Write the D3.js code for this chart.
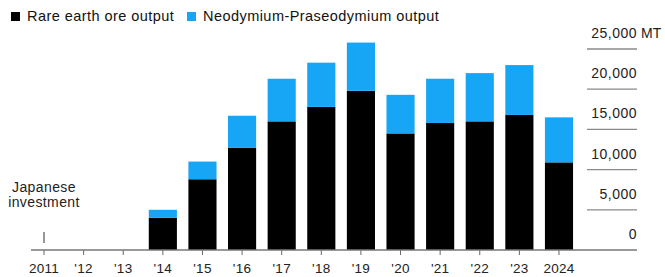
<!DOCTYPE html>
<html>
<head>
<meta charset="utf-8">
<script src="https://cdn.jsdelivr.net/npm/d3@7"></script>
<style>
  body { margin: 0; background: #fff; }
  text { font-family: "Liberation Sans", Arial, sans-serif; }
</style>
</head>
<body>
<svg id="chart" width="665" height="277"></svg>
<script>
// data
var years = ["2011", "'12", "'13", "'14", "'15", "'16", "'17", "'18", "'19", "'20", "'21", "'22", "'23", "2024"];
var oreOutput = [0, 0, 0, 4000, 8800, 12700, 16000, 17800, 19800, 14500, 15800, 16000, 16800, 10900];
var ndprOutput = [0, 0, 0, 1000, 2200, 4000, 5300, 5500, 6000, 4800, 5500, 6000, 6200, 5600];
var yTicks = [0, 5000, 10000, 15000, 20000, 25000];
var seriesNames = ["Rare earth ore output", "Neodymium-Praseodymium output"];
var seriesColours = ["#000000", "#17a6f5"];

var svg = d3.select("#chart");
var baseY = 250, topY = 49;

var x = d3.scaleBand()
    .domain(years)
    .range([24.2, 578.8])
    .paddingInner(0.29)
    .paddingOuter(0.145);

var y = d3.scaleLinear()
    .domain([0, 25000])
    .range([baseY, topY]);

// gridlines + labels on the right
var grid = svg.append("g");
grid.selectAll("line")
    .data(yTicks.filter(function (d) { return d > 0; }))
    .enter().append("line")
    .attr("x1", 587).attr("x2", 637)
    .attr("y1", function (d) { return y(d); })
    .attr("y2", function (d) { return y(d); })
    .attr("stroke", "#8a8a8a")
    .attr("stroke-width", 1.3);

grid.selectAll("text")
    .data(yTicks)
    .enter().append("text")
    .attr("x", 637)
    .attr("y", function (d) { return y(d) - 11; })
    .attr("text-anchor", "end")
    .attr("font-size", 14)
    .attr("letter-spacing", 0.5)
    .attr("fill", "#222")
    .text(function (d) { return d3.format(",")(d); });

grid.append("text")
    .attr("x", 641)
    .attr("y", y(25000) - 11)
    .attr("font-size", 14)
    .attr("fill", "#222")
    .text("MT");

// stacked bars
var rows = years.map(function (yr, i) { return { year: yr, ore: oreOutput[i], ndpr: ndprOutput[i] }; });
var stack = d3.stack().keys(["ore", "ndpr"])(rows);

svg.append("g").selectAll("g")
    .data(stack)
    .enter().append("g")
    .attr("fill", function (d, i) { return seriesColours[i]; })
    .selectAll("rect")
    .data(function (d) { return d; })
    .enter().append("rect")
    .attr("x", function (d) { return x(d.data.year); })
    .attr("width", x.bandwidth())
    .attr("y", function (d) { return y(d[1]); })
    .attr("height", function (d) { return y(d[0]) - y(d[1]); });

// x axis
var xAxis = svg.append("g")
    .attr("transform", "translate(0," + baseY + ")")
    .call(d3.axisBottom(x).tickSize(5).tickPadding(8).tickSizeOuter(0));
xAxis.select(".domain").remove();
xAxis.selectAll(".tick line").attr("stroke", "#666");
xAxis.selectAll(".tick text")
    .attr("font-size", 13.5)
    .attr("letter-spacing", 0.3)
    .attr("fill", "#222")
    .attr("font-family", "Liberation Sans, Arial, sans-serif");

svg.append("line")
    .attr("x1", 31).attr("x2", 637)
    .attr("y1", baseY).attr("y2", baseY)
    .attr("stroke", "#777")
    .attr("stroke-width", 1.3);

// japanese investment marker
var jx = x("2011") + x.bandwidth() / 2;
svg.append("line")
    .attr("x1", jx).attr("x2", jx)
    .attr("y1", 232).attr("y2", 243)
    .attr("stroke", "#555")
    .attr("stroke-width", 1.2);
svg.append("text")
    .attr("x", jx).attr("y", 192)
    .attr("text-anchor", "middle")
    .attr("font-size", 14)
    .attr("letter-spacing", 0.4)
    .attr("fill", "#222")
    .text("Japanese");
svg.append("text")
    .attr("x", jx).attr("y", 207)
    .attr("text-anchor", "middle")
    .attr("font-size", 14)
    .attr("letter-spacing", 0.4)
    .attr("fill", "#222")
    .text("investment");

// legend
var legendX = [11, 187];
var legend = svg.append("g");
seriesNames.forEach(function (name, i) {
    legend.append("rect")
        .attr("x", legendX[i]).attr("y", 12)
        .attr("width", 9).attr("height", 9)
        .attr("fill", seriesColours[i]);
    legend.append("text")
        .attr("x", legendX[i] + 16).attr("y", 21)
        .attr("font-size", 14.5)
        .attr("letter-spacing", 0.45)
        .attr("fill", "#111")
        .text(name);
});
</script>
</body>
</html>
